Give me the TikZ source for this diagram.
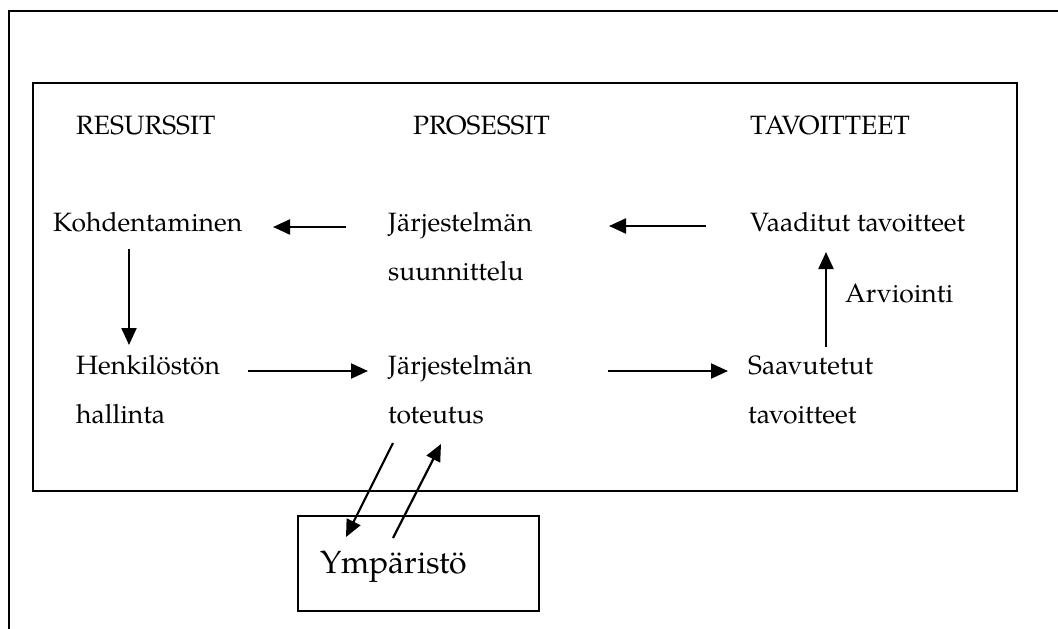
\documentclass[tikz,border=0pt]{standalone}
\usepackage{fontspec}
\setmainfont{TeX Gyre Pagella}
\usetikzlibrary{arrows.meta,calc}
\tikzset{
  txt/.style={inner sep=0pt, anchor=base west, font=\fontsize{26.5}{49}\selectfont},
  frame/.style={line width=2.4pt},
  arr/.style={line width=2.2pt, -{Triangle[length=17pt,width=15pt]}},
}
\newcommand{\twolines}[2]{\begin{tabular}[t]{@{}l@{}}#1\\#2\end{tabular}}
\begin{document}
\begin{tikzpicture}[x=1pt,y=-1pt]
  \useasboundingbox (0,0) rectangle (1058,629);
  \fill[white] (0,0) rectangle (1058,629);

  % outer frame (open at right and bottom) and inner frame
  \draw[frame] (9,629) -- (9,11) -- (1058,11);
  \draw[frame] (33,83) rectangle (1017,491);

  % column headers
  \node[txt] (res) at (76,134) {RESURSSIT};
  \node[txt] (pro) at (413,134) {PROSESSIT};
  \node[txt] (tav) at (750,134) {TAVOITTEET};

  % upper row
  \node[txt] (koh) at (53,231) {Kohdentaminen};
  \node[txt] (js)  at (388,231) {\twolines{Järjestelmän}{suunnittelu}};
  \node[txt] (vt)  at (750,231) {Vaaditut tavoitteet};

  % lower row
  \node[txt] (hen) at (76,374) {\twolines{Henkilöstön}{hallinta}};
  \node[txt] (jt)  at (388,374) {\twolines{Järjestelmän}{toteutus}};
  \node[txt] (st)  at (748,374) {\twolines{Saavutetut}{tavoitteet}};

  \node[txt] (arv) at (845,302) {Arviointi};

  % environment box
  \node[draw, frame, anchor=north west, minimum width=241pt, minimum height=95pt,
        text width=197pt, inner xsep=0pt, inner ysep=0pt, align=left,
        text height=22pt, text depth=3pt, font=\fontsize{32}{38}\selectfont]
        (env) at (297,515) {Ympäristö};

  % flow arrows
  \draw[arr] ($(js.base west)+(-42,-4)$) -- ($(koh.base west)+(220,-4)$);
  \draw[arr] ($(vt.base west)+(-44,-5)$) -- ($(js.base west)+(221,-5)$);
  \draw[arr] ($(koh.base west)+(76,18)$) -- ($(hen.base west)+(53,-29)$);
  \draw[arr] ($(hen.base west)+(172,-3)$) -- ($(jt.base west)+(-20,-3)$);
  \draw[arr] ($(jt.base west)+(220,-3)$) -- ($(st.base west)+(-20,-3)$);
  \draw[arr] ($(st.base west)+(78,-27)$) -- ($(vt.base west)+(76,21)$);
  \draw[arr] ($(jt.base west)+(5,69)$) -- ($(env.north west)+(49,22)$);
  \draw[arr] ($(env.north west)+(96,23)$) -- ($(jt.base west)+(53,70)$);
\end{tikzpicture}
\end{document}
